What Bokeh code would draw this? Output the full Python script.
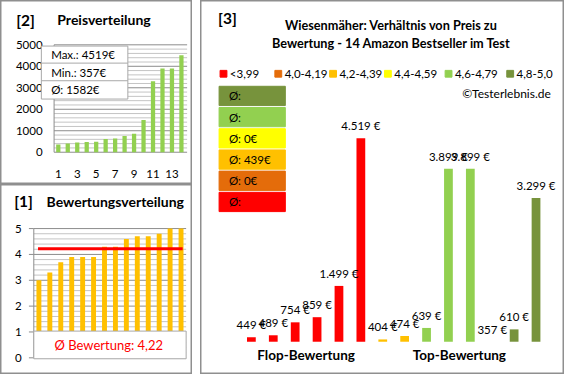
import numpy as np
from bokeh.plotting import figure
from bokeh.layouts import row, column
from bokeh.models import Range1d
from bokeh.core.properties import value
from bokeh.embed import file_html
from bokeh.resources import INLINE

# ---------------- data ----------------
prices_sorted = [357, 404, 449, 474, 489, 610, 639, 754, 859, 1499, 3299, 3899, 3899, 4519]
price_ticks = [0, 1000, 2000, 3000, 4000, 5000]
price_xticks = [1, 3, 5, 7, 9, 11, 13]

ratings_sorted = [3.0, 3.3, 3.7, 3.9, 3.9, 3.9, 4.3, 4.3, 4.6, 4.7, 4.7, 4.8, 5.0, 5.0]
rating_ticks = [0, 1, 2, 3, 4, 5]

legend_labels = ["<3,99", "4,0-4,19", "4,2-4,39", "4,4-4,59", "4,6-4,79", "4,8-5,0"]
legend_colors = ["#ff0000", "#e46c0a", "#ffc000", "#ffff00", "#92d050", "#77933c"]
avg_box_labels = ["Ø:", "Ø: 0€", "Ø: 439€", "Ø: 0€", "Ø:", "Ø:"]

product_prices = [449, 489, 754, 859, 1499, 4519, 404, 474, 639, 3899, 3899, 357, 610, 3299]
product_group = [0, 0, 0, 0, 0, 0, 2, 2, 4, 4, 4, 5, 5, 5]
product_side = [0, 0, 0, 0, 0, 0, 1, 1, 1, 1, 1, 1, 1, 1]
side_names = ["Flop-Bewertung", "Top-Bewertung"]

title3 = ["Wiesenmäher: Verhältnis von Preis zu", "Bewertung - 14 Amazon Bestseller im Test"]

# ---------------- layout helpers ----------------
SX = 564 / 576
SY = 374 / 388
FONT = "Lato"
BORDER = "#8f8f8f"


def make_panel(box, w, h):
    x0, y0, x1, y1 = box
    p = figure(width=w, height=h, output_backend="svg", toolbar_location=None,
               x_range=Range1d(x0, x1), y_range=Range1d(y1, y0),
               x_axis_location=None, y_axis_location=None, min_border=0, title=None,
               outline_line_color=BORDER, outline_line_width=2,
               background_fill_color="white", border_fill_color="white")
    p.grid.visible = False
    return p


def lin_range(r0, v0, r1, v1, lo, hi):
    k = (v1 - v0) / (r1 - r0)
    return Range1d(v0 + (lo - r0) * k, v0 + (hi - r0) * k)


def txt(p, x, y, s, size, align="left", bold=False, color="#000000",
        xr="default", yr="default", y_offset=0):
    p.text(x=x, y=y, text=s, text_font=value(FONT), text_font_size=f"{size}px",
           text_font_style="bold" if bold else "normal", text_align=align,
           text_baseline="middle", text_color=color, x_range_name=xr,
           y_range_name=yr, y_offset=y_offset)


# ---------------- panel [2] Preisverteilung ----------------
BOX2 = (1, 1, 197, 192)
p2 = make_panel(BOX2, 192, 184)
p2.extra_x_ranges = {"d": lin_range(60, 1, 185.7, 14, BOX2[0], BOX2[2])}
p2.extra_y_ranges = {"d": lin_range(158.5, 0, 47, 5000, BOX2[3], BOX2[1])}
minor2 = [v for v in range(0, 5001, 200) if v % 1000]
p2.segment(x0=[55.7] * len(minor2), x1=[191.5] * len(minor2), y0=minor2, y1=minor2,
           y_range_name="d", line_color="#c4c4c4", line_width=1)
p2.segment(x0=[55.7] * len(price_ticks), x1=[191.5] * len(price_ticks), y0=price_ticks,
           y1=price_ticks, y_range_name="d", line_color="#8c8c8c", line_width=1)
idx2 = list(range(1, len(prices_sorted) + 1))
p2.vbar(x=idx2, top=prices_sorted, bottom=0, width=0.45, fill_color="#92d050",
        line_color=None, x_range_name="d", y_range_name="d")
p2.segment(x0=[55.7], x1=[55.7], y0=[0], y1=[price_ticks[-1]], y_range_name="d",
           line_color="#8c8c8c", line_width=1)
txt(p2, [44] * len(price_ticks), price_ticks, [str(t) for t in price_ticks], 11.5,
    align="right", yr="d")
txt(p2, price_xticks, [181] * len(price_xticks), [str(t) for t in price_xticks], 11.5,
    align="center", xr="d")
p2.quad(left=[42.7], right=[131], top=[48.3], bottom=[103.3], fill_color="white",
        line_color="#a8a8a8", line_width=1)
p2.segment(x0=[42.7, 42.7], x1=[131, 131], y0=[66, 84.3], y1=[66, 84.3],
           line_color="#a8a8a8", line_width=1)
info = [f"Max.: {max(prices_sorted)}€", f"Min.: {min(prices_sorted)}€",
        f"Ø: {round(sum(prices_sorted) / len(prices_sorted))}€"]
txt(p2, [52.7] * 3, [57.3, 75.7, 93.3], info, 11.5)
txt(p2, [17], [21], ["[2]"], 15.5, bold=True)
txt(p2, [59], [20.5], ["Preisverteilung"], 14, bold=True)

# ---------------- panel [1] Bewertungsverteilung ----------------
BOX1 = (1, 192, 197, 389)
p1 = make_panel(BOX1, 192, 190)
p1.extra_x_ranges = {"d": lin_range(40.2, 1, 185.3, 14, BOX1[0], BOX1[2])}
p1.extra_y_ranges = {"d": lin_range(371.7, 0, 237.7, 5, BOX1[3], BOX1[1])}
minor1 = [v / 10 for v in range(0, 51, 2) if v % 10]
p1.segment(x0=[35] * len(minor1), x1=[190.5] * len(minor1), y0=minor1, y1=minor1,
           y_range_name="d", line_color="#c4c4c4", line_width=1)
p1.segment(x0=[35] * len(rating_ticks), x1=[190.5] * len(rating_ticks), y0=rating_ticks,
           y1=rating_ticks, y_range_name="d", line_color="#8c8c8c", line_width=1)
p1.segment(x0=[30] * len(rating_ticks), x1=[35] * len(rating_ticks), y0=rating_ticks,
           y1=rating_ticks, y_range_name="d", line_color="#8c8c8c", line_width=1)
p1.segment(x0=[35], x1=[35], y0=[0], y1=[rating_ticks[-1]], y_range_name="d",
           line_color="#8c8c8c", line_width=1)
idx1 = list(range(1, len(ratings_sorted) + 1))
p1.vbar(x=idx1, top=ratings_sorted, bottom=0, width=0.45, fill_color="#ffc000",
        line_color=None, x_range_name="d", y_range_name="d")
avg_rating = sum(ratings_sorted) / len(ratings_sorted)
p1.segment(x0=[0.92], x1=[len(ratings_sorted) + 0.15], y0=[avg_rating], y1=[avg_rating],
           x_range_name="d", y_range_name="d", line_color="#ff0000", line_width=3)
p1.quad(left=[35], right=[190.5], top=[344], bottom=[372.7], fill_color="white",
        line_color="#a8a8a8", line_width=1)
txt(p1, [111.5], [358.5], [f"Ø Bewertung: {avg_rating:.2f}".replace(".", ",")], 13,
    align="center", color="#ff0000")
txt(p1, [22.7] * len(rating_ticks), rating_ticks, [str(t) for t in rating_ticks], 11.5,
    align="right", yr="d")
txt(p1, [15], [209.5], ["[1]"], 15.5, bold=True)
txt(p1, [48], [209.5], ["Bewertungsverteilung"], 14, bold=True)

# ---------------- panel [3] Preis / Bewertung ----------------
BOX3 = (205, 1, 577, 389)
p3 = make_panel(BOX3, 364, 374)
min_p = min(product_prices)
max_p = max(product_prices)
p3.extra_x_ranges = {"d": lin_range(257, 1, 547.9, 14, BOX3[0], BOX3[2])}
p3.extra_y_ranges = {"d": lin_range(355, min_p, 144, max_p, BOX3[3], BOX3[1])}
idx3 = list(range(1, len(product_prices) + 1))
p3.vbar(x=idx3, top=product_prices, bottom=min_p, width=0.4,
        fill_color=[legend_colors[g] for g in product_group], line_color=None,
        x_range_name="d", y_range_name="d")
txt(p3, idx3, product_prices, [f"{v:,}".replace(",", ".") + " €" for v in product_prices],
    11.5, align="center", xr="d", yr="d", y_offset=-12.5)
side_x = [float(np.mean([i for i, s in zip(idx3, product_side) if s == k]))
          for k in range(len(side_names))]
txt(p3, side_x, [368.5] * 2, side_names, 13.5, align="center", bold=True, xr="d")

txt(p3, [223], [19.5], ["[3]"], 15.5, bold=True)
txt(p3, [400, 400], [26, 45], title3, 12.7, align="center", bold=True)

leg_left = [225, 281, 337, 393, 455, 518]
p3.rect(x=[l + 3.5 for l in leg_left], y=[77] * 6, width=7, height=7,
        color=legend_colors)
txt(p3, [l + 10 for l in leg_left], [77] * 6, legend_labels, 11.5)
txt(p3, [563], [97.5], ["©Testerlebnis.de"], 12, align="right")

row_tops = [200, 178, 156, 134, 112, 90]
p3.quad(left=[224] * 6, right=[291.7] * 6, top=row_tops, bottom=[t + 20 for t in row_tops],
        color=legend_colors)
txt(p3, [234] * 6, [t + 10 for t in row_tops], avg_box_labels, 11.5)

layout = row(column(p2, p1, spacing=0), p3, spacing=8)

with open("out.html", "w") as f:
    f.write(file_html(layout, INLINE))
